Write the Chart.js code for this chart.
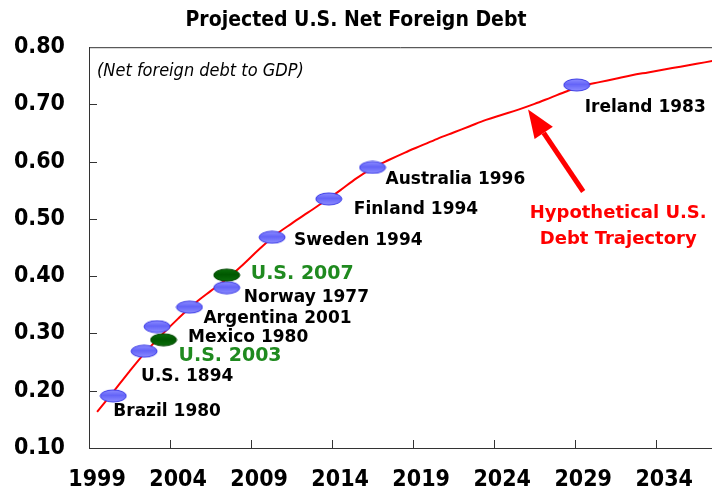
<!DOCTYPE html>
<html>
<head>
<meta charset="utf-8">
<script src="https://cdn.jsdelivr.net/npm/chart.js@4"></script>
<style>
html, body { margin: 0; padding: 0; background: #fff; }
#wrap { width: 712px; height: 498px; }
</style>
</head>
<body>
<div id="wrap"><canvas id="chart"></canvas></div>
<script>
// hypothetical U.S. path, net foreign debt / GDP
var lineYears = [1999, 2000, 2001, 2002, 2003, 2004, 2005, 2006, 2007, 2008,
    2009, 2010, 2011, 2012, 2013, 2014, 2015, 2016, 2017, 2018,
    2019, 2020, 2021, 2022, 2023, 2024, 2025, 2026, 2027, 2028,
    2029, 2030, 2031, 2032, 2033, 2034, 2035, 2036, 2037];
var lineValues = [0.163, 0.198, 0.234, 0.268, 0.298, 0.326, 0.352, 0.374, 0.395, 0.420,
    0.447, 0.472, 0.492, 0.511, 0.530, 0.550, 0.571, 0.589, 0.603, 0.616,
    0.628, 0.640, 0.651, 0.662, 0.673, 0.682, 0.691, 0.701, 0.712, 0.723,
    0.733, 0.739, 0.745, 0.751, 0.756, 0.761, 0.766, 0.771, 0.776];

// other countries at their peak, placed where the U.S. path reaches them
var countryNames = ['Brazil 1980', 'U.S. 1894', 'Mexico 1980', 'Argentina 2001', 'Norway 1977',
    'Sweden 1994', 'Finland 1994', 'Australia 1996', 'Ireland 1983'];
var countryYears = [2000.0, 2001.9, 2002.7, 2004.7, 2007.0, 2009.8, 2013.3, 2016.0, 2028.6];
var countryValues = [0.191, 0.269, 0.312, 0.346, 0.380, 0.468, 0.535, 0.590, 0.734];

var usNames = ['U.S. 2003', 'U.S. 2007'];
var usYears = [2003.1, 2007.0];
var usValues = [0.289, 0.402];

var xTicks = [1999, 2004, 2009, 2014, 2019, 2024, 2029, 2034];
var yTicks = [0.10, 0.20, 0.30, 0.40, 0.50, 0.60, 0.70, 0.80];

// label offsets in px from each marker
var countryLabelOffsets = [[0, 16], [-3, 25], [31, 11], [14, 11], [17, 10],
    [22, 3], [25, 11], [13, 12], [8, 23]];
var usLabelOffsets = [[15, 16], [24, -1]];

var condensed = "'DejaVu Sans Condensed', 'DejaVu Sans', sans-serif";
var labelFont = "'DejaVu Sans', Verdana, sans-serif";

function ellipseImage(inner, outer, edge) {
    var c = document.createElement('canvas');
    c.width = 28;
    c.height = 14;
    var g = c.getContext('2d');
    var grad = g.createLinearGradient(0, 1, 0, 13);
    grad.addColorStop(0, inner);
    grad.addColorStop(0.45, outer);
    grad.addColorStop(1, inner);
    g.beginPath();
    g.ellipse(14, 7, 13, 6, 0, 0, Math.PI * 2);
    g.fillStyle = grad;
    g.fill();
    g.lineWidth = 1;
    g.strokeStyle = edge;
    g.stroke();
    return c;
}

var blueDot = ellipseImage('#8c8cff', '#6464f8', '#3c3ce6');
var greenDot = ellipseImage('#0a6e0a', '#005800', '#004800');

function toPoints(xs, ys) {
    return xs.map(function (x, i) { return { x: x, y: ys[i] }; });
}

var decorations = {
    id: 'decorations',
    beforeDatasetsDraw: function (chart) {
        var ctx = chart.ctx;
        var a = chart.chartArea;
        var xs = chart.scales.x;
        var ys = chart.scales.y;
        ctx.save();
        ctx.strokeStyle = '#333';
        ctx.lineWidth = 1;
        ctx.beginPath();
        ctx.moveTo(a.left, a.top + 0.5);
        ctx.lineTo(a.right, a.top + 0.5);
        // inside tick marks
        yTicks.slice(1, -1).forEach(function (v) {
            var y = Math.round(ys.getPixelForValue(v)) + 0.5;
            ctx.moveTo(a.left, y);
            ctx.lineTo(a.left + 8, y);
        });
        for (var yr = 2003.5; yr < xs.max; yr += 5) {
            var x = Math.round(xs.getPixelForValue(yr)) + 0.5;
            ctx.moveTo(x, a.bottom);
            ctx.lineTo(x, a.bottom - 8);
        }
        ctx.stroke();

        ctx.fillStyle = '#000';
        ctx.font = 'italic 18px ' + condensed;
        ctx.textBaseline = 'middle';
        ctx.textAlign = 'left';
        ctx.fillText('(Net foreign debt to GDP)', a.left + 8, a.top + 24);
        ctx.restore();
    },
    afterDatasetsDraw: function (chart) {
        var ctx = chart.ctx;
        var xs = chart.scales.x;
        var ys = chart.scales.y;
        ctx.save();
        ctx.textBaseline = 'middle';
        ctx.textAlign = 'left';

        ctx.font = 'bold 17px ' + labelFont;
        ctx.fillStyle = '#000';
        chart.getDatasetMeta(1).data.forEach(function (pt, i) {
            var o = countryLabelOffsets[i];
            ctx.fillText(countryNames[i], pt.x + o[0], pt.y + o[1]);
        });

        ctx.font = 'bold 19px ' + labelFont;
        ctx.fillStyle = '#1f8a1f';
        chart.getDatasetMeta(0).data.forEach(function (pt, i) {
            var o = usLabelOffsets[i];
            ctx.fillText(usNames[i], pt.x + o[0], pt.y + o[1]);
        });

        // arrow pointing at the trajectory
        var tipX = xs.getPixelForValue(2025.6), tipY = ys.getPixelForValue(0.691);
        var tailX = xs.getPixelForValue(2029.0), tailY = ys.getPixelForValue(0.548);
        var ang = Math.atan2(tipY - tailY, tipX - tailX);
        var headLen = 28, headHalf = 11;
        var baseX = tipX - headLen * Math.cos(ang), baseY = tipY - headLen * Math.sin(ang);
        ctx.strokeStyle = '#ff0000';
        ctx.fillStyle = '#ff0000';
        ctx.lineWidth = 5;
        ctx.beginPath();
        ctx.moveTo(tailX, tailY);
        ctx.lineTo(baseX, baseY);
        ctx.stroke();
        ctx.beginPath();
        ctx.moveTo(tipX, tipY);
        ctx.lineTo(baseX + headHalf * Math.sin(ang), baseY - headHalf * Math.cos(ang));
        ctx.lineTo(baseX - headHalf * Math.sin(ang), baseY + headHalf * Math.cos(ang));
        ctx.closePath();
        ctx.fill();

        ctx.font = 'bold 18px ' + labelFont;
        ctx.textAlign = 'center';
        ctx.fillText('Hypothetical U.S.', tailX + 35, tailY + 22);
        ctx.fillText('Debt Trajectory', tailX + 35, tailY + 48);
        ctx.restore();
    }
};

var ctx = document.getElementById('chart');
new Chart(ctx, {
    type: 'line',
    data: {
        datasets: [{
            data: toPoints(usYears, usValues),
            showLine: false,
            pointStyle: greenDot,
            order: 1
        }, {
            data: toPoints(countryYears, countryValues),
            showLine: false,
            pointStyle: blueDot,
            order: 2
        }, {
            data: toPoints(lineYears, lineValues),
            borderColor: '#ff0000',
            borderWidth: 2,
            pointRadius: 0,
            tension: 0.35,
            order: 3
        }]
    },
    options: {
        responsive: true,
        maintainAspectRatio: false,
        animation: false,
        layout: { padding: 0, autoPadding: false },
        plugins: {
            legend: { display: false },
            tooltip: { enabled: false },
            title: {
                display: true,
                text: 'Projected U.S. Net Foreign Debt',
                color: '#000',
                font: { family: condensed, size: 21, weight: 'bold' },
                padding: { top: 8, bottom: 14 }
            }
        },
        scales: {
            x: {
                type: 'linear',
                min: 1998.5,
                max: 2036.95,
                afterBuildTicks: function (scale) {
                    scale.ticks = xTicks.map(function (v) { return { value: v }; });
                },
                afterFit: function (scale) { scale.height = 50; },
                ticks: {
                    color: '#000',
                    padding: 18,
                    maxRotation: 0,
                    font: { family: condensed, size: 23, weight: 'bold' },
                    callback: function (v) { return String(v); }
                },
                grid: { drawOnChartArea: false, drawTicks: false },
                border: { color: '#333', width: 1 }
            },
            y: {
                min: 0.1,
                max: 0.8,
                afterBuildTicks: function (scale) {
                    scale.ticks = yTicks.map(function (v) { return { value: v }; });
                },
                afterFit: function (scale) { scale.width = 89; },
                ticks: {
                    color: '#000',
                    padding: 24,
                    font: { family: condensed, size: 23, weight: 'bold' },
                    callback: function (v) { return v.toFixed(2); }
                },
                grid: { drawOnChartArea: false, drawTicks: false },
                border: { color: '#333', width: 1 }
            }
        }
    },
    plugins: [decorations]
});
</script>
</body>
</html>
